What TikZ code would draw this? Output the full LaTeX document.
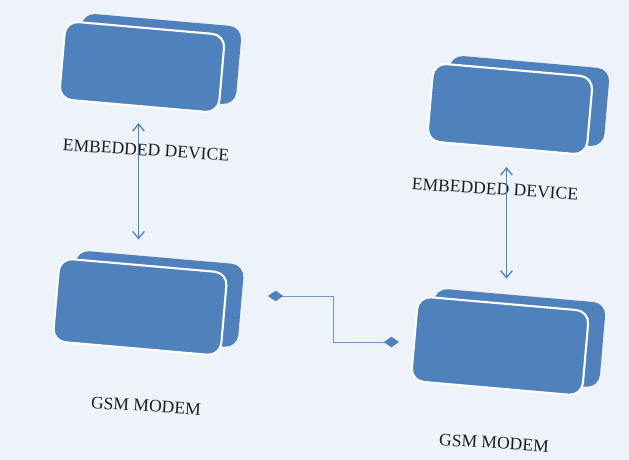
\documentclass[tikz,border=0pt]{standalone}
\usepackage{fontspec}
\setmainfont{Liberation Serif}
\usetikzlibrary{arrows.meta, positioning, calc}
\definecolor{myblue}{RGB}{79,129,189}
\definecolor{mybg}{RGB}{238,242,249}
\definecolor{mylink}{RGB}{112,150,205}
\definecolor{mytext}{RGB}{30,30,30}
\tikzset{
  backbox/.style={rectangle, fill=myblue, rounded corners=11pt, rotate=-5},
  frontbox/.style={rectangle, draw=white, fill=myblue, rounded corners=11pt,
    line width=1.8pt, rotate=-5},
  devlabel/.style={font=\fontsize{15}{17}\selectfont, text=mytext,
    rotate=-3.5, inner sep=0pt},
  dblarrow/.style={{Straight Barb[length=6pt,width=10pt]}-{Straight Barb[length=6pt,width=10pt]},
    line width=1.1pt, color=myblue},
  link/.style={{Diamond[length=13pt,width=9pt,color=myblue]}-{Diamond[length=13pt,width=9pt,color=myblue]},
    line width=0.8pt, color=mylink}
}

\begin{document}
\begin{tikzpicture}[x=0.03cm, y=-0.03cm]
  % Background
  \fill[mybg] (0,0) rectangle (629,460);

  % Boxes: back slab, then front face
  \foreach \nm/\cx/\cy/\w/\h in {devA/142/67/4.8/2.35, modemA/140/307/5.05/2.5,
                                  devB/510/109/4.8/2.35, modemB/500/346/5.15/2.55} {
    \node[backbox, minimum width=\w cm, minimum height=\h cm] at (\cx+17,\cy-8) {};
    \node[frontbox, minimum width=\w cm, minimum height=\h cm] (\nm) at (\cx,\cy) {};
  }

  % Labels
  \node[devlabel] (lblDevA) at (146,150) {EMBEDDED DEVICE};
  \node[devlabel] (lblModemA) at (146,406) {GSM MODEM};
  \node[devlabel] (lblDevB) at (495,189) {EMBEDDED DEVICE};
  \node[devlabel] (lblModemB) at (494,443) {GSM MODEM};

  % Device <-> modem
  \draw[dblarrow] ($(devA.south)+(0,16)$) -- ($(devA.south |- modemA.north)+(0,-25)$);
  \draw[dblarrow] ($(devB.south)+(0,18)$) -- ($(devB.south |- modemB.north)+(0,-24)$);

  % Modem link
  \coordinate (linkA) at (268,296);
  \coordinate (linkB) at (399,342);
  \draw[link] (linkA) -- ++(65,0) |- (linkB);
\end{tikzpicture}
\end{document}
